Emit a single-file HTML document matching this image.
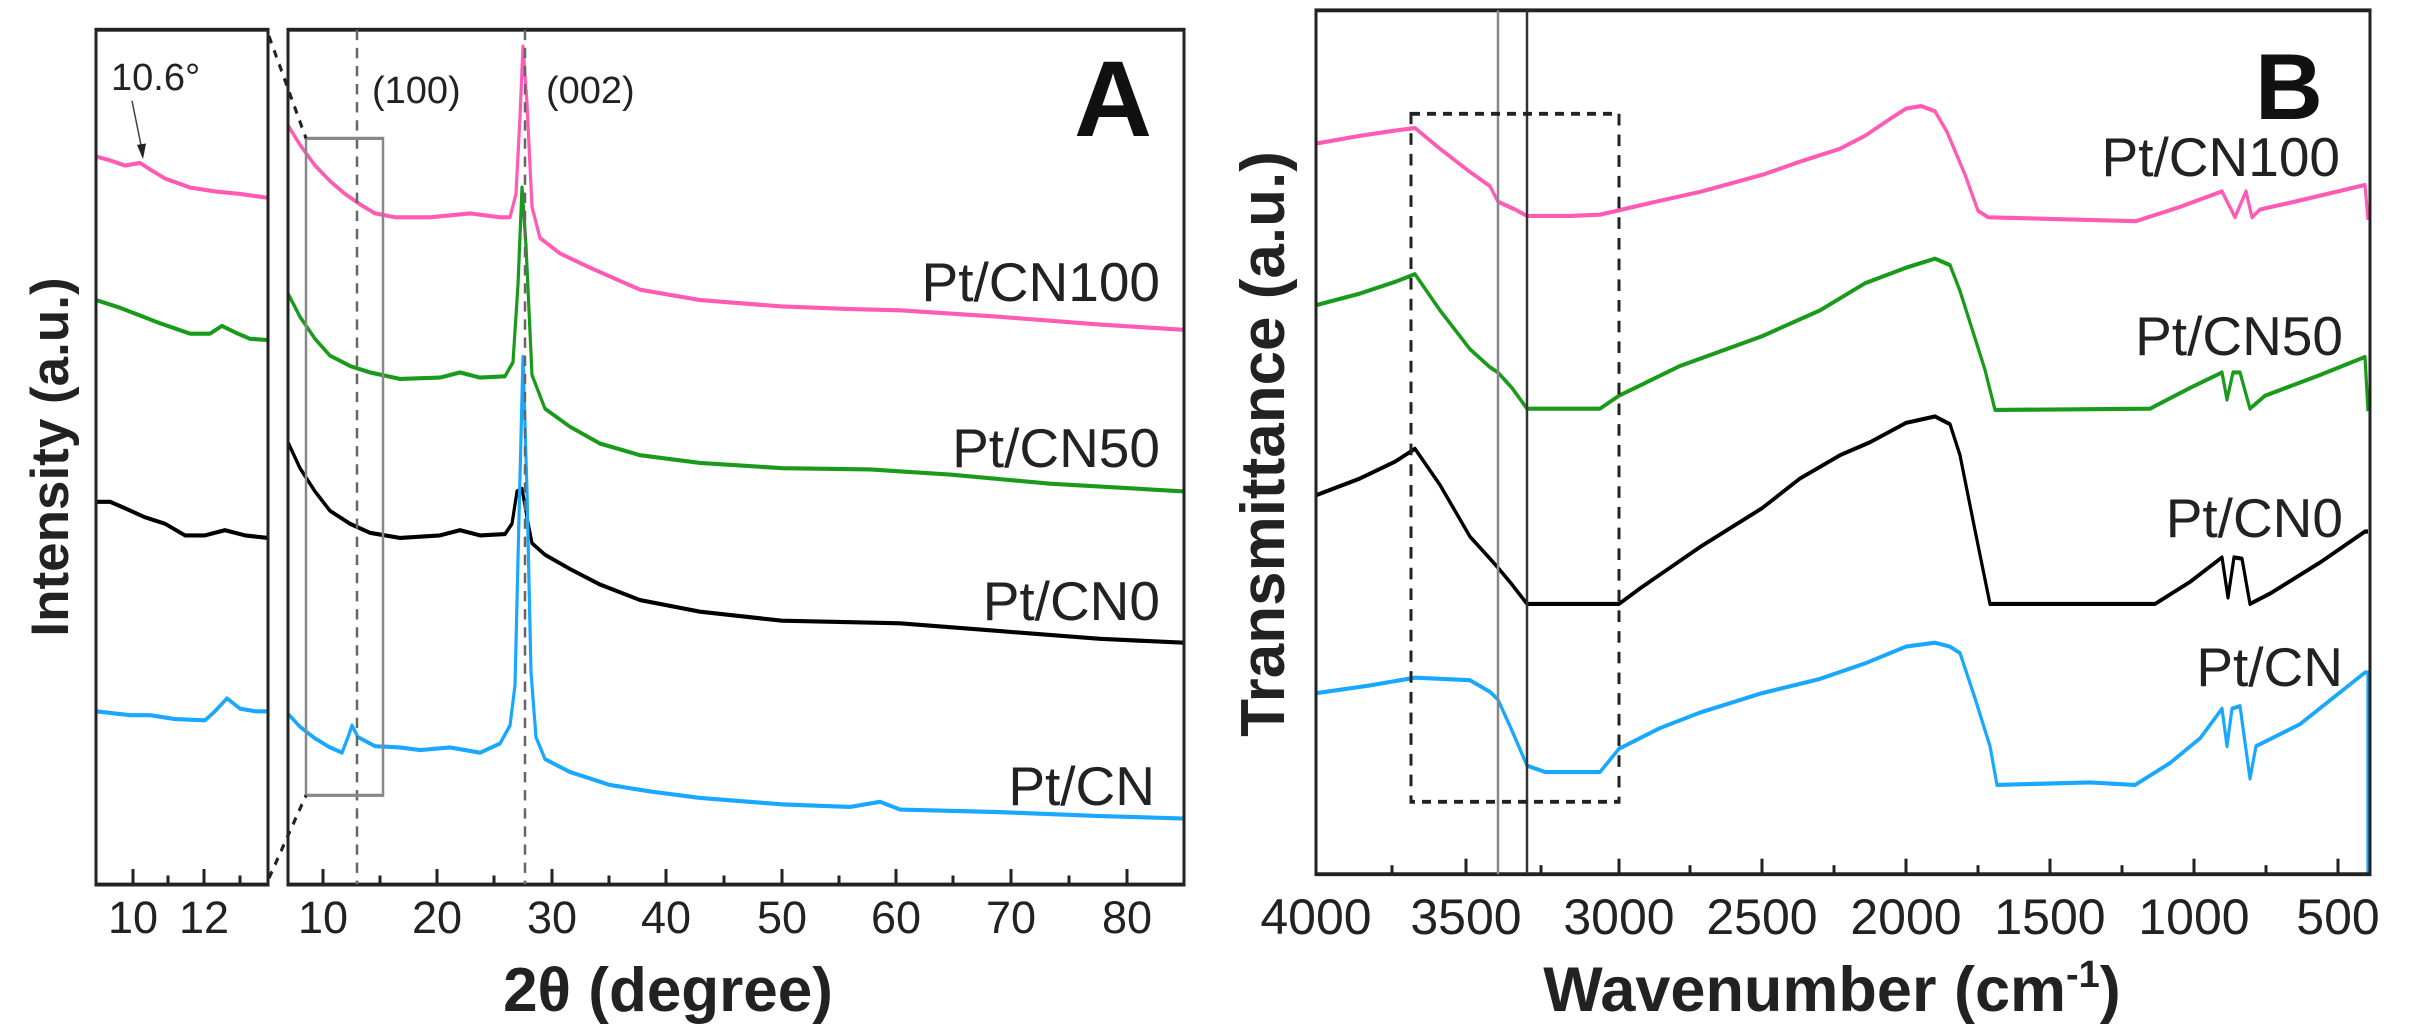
<!DOCTYPE html>
<html><head><meta charset="utf-8"><style>
html,body{margin:0;padding:0;background:#fff;}
svg{display:block}
text{font-family:"Liberation Sans",Arial,sans-serif;}
</style></head><body>
<svg width="2433" height="1034" viewBox="0 0 2433 1034" xmlns="http://www.w3.org/2000/svg">
<g transform="scale(1,1.2932)">
<g fill="none" stroke-width="3.2" stroke-linejoin="round">
<polyline stroke="#ff5ab4" points="96,121 110,124 125,128 140,126 150,131 165,138 190,145 215,148 240,150 268,153"/>
<polyline stroke="#1a9a1a" points="96,232 120,238 140,244 160,250 190,258 210,258 222,252 235,257 250,262 268,263"/>
<polyline stroke="#000" points="96,388 110,388 125,393 145,400 165,405 185,414 205,414 225,410 245,414 268,416"/>
<polyline stroke="#1aa8ff" points="96,550 130,553 150,553 175,556 205,557 215,550 227,540 240,548 255,550 268,550"/>
<polyline stroke="#ff5ab4" points="288,97 300,112 315,128 330,140 345,150 360,158 375,165 395,168 430,168 470,165 500,168 510,168 516,150 520,90 523,36 527,80 532,160 540,184 560,196 590,207 640,224 700,232 782,237 850,239 900,240 1000,245 1100,251 1184,255"/>
<polyline stroke="#1a9a1a" points="288,227 300,245 315,262 330,275 350,283 370,288 400,293 440,292 460,288 480,292 505,291 513,280 518,220 522,145 526,190 532,290 545,316 570,330 600,343 640,352 700,358 782,362 870,363 950,367 1050,374 1184,380"/>
<polyline stroke="#000" points="288,342 300,362 315,380 330,395 350,405 370,412 400,416 440,414 460,410 480,414 505,413 512,405 517,380 522,378 527,400 532,420 545,429 570,440 600,452 640,464 700,473 782,480 900,482 1000,488 1100,494 1184,497"/>
<polyline stroke="#1aa8ff" points="288,552 300,562 315,571 330,578 342,582 348,570 352,561 358,570 375,577 400,578 420,580 450,578 480,582 500,575 510,561 515,530 519,400 523,276 527,380 531,520 536,570 545,587 570,597 610,607 650,612 700,617 782,622 850,624 880,620 900,626 1000,628 1100,631 1184,633"/>
<polyline stroke="#ff5ab4" points="1316,111 1360,105 1395,101 1415,99 1440,115 1470,133 1490,144 1498,156 1515,162 1527,167 1570,167 1600,166 1650,157 1702,148 1763,135 1800,125 1840,115 1865,105 1890,92 1906,84 1921,82 1935,86 1947,102 1965,135 1978,163 1988,168 2136,171 2180,160 2222,148 2235,168 2246,148 2252,168 2260,162 2300,155 2365,143 2368,170"/>
<polyline stroke="#1a9a1a" points="1316,236 1360,227 1395,218 1415,212 1440,240 1470,270 1490,284 1498,288 1512,300 1527,316 1600,316 1619,306 1680,283 1762,260 1820,240 1865,219 1906,207 1935,200 1950,205 1960,225 1985,286 1995,317 2150,316 2190,300 2222,288 2227,309 2233,288 2240,288 2250,316 2265,306 2320,290 2365,276 2368,318"/>
<polyline stroke="#000" points="1316,383 1360,370 1395,357 1415,347 1440,375 1470,415 1490,432 1498,439 1512,452 1527,467 1619,467 1640,455 1700,423 1762,393 1800,370 1840,352 1870,342 1906,327 1935,322 1950,328 1960,352 1975,410 1990,467 2155,467 2190,450 2222,431 2228,462 2234,431 2242,432 2250,467 2270,459 2320,435 2365,411 2368,411"/>
<polyline stroke="#1aa8ff" points="1316,536 1370,530 1415,524 1470,526 1490,535 1498,541 1512,565 1527,592 1545,597 1600,597 1619,579 1660,563 1700,551 1762,536 1820,525 1865,513 1906,500 1935,497 1950,500 1960,505 1975,540 1990,577 1997,607 2090,605 2135,607 2170,590 2200,571 2222,548 2227,577 2232,548 2240,546 2250,602 2256,577 2300,560 2365,520 2368,520 2368,676"/>
</g>
<g fill="none" stroke="#222" stroke-width="3">
<rect x="96" y="23" width="172" height="661"/>
<rect x="288" y="23" width="896" height="661"/>
<rect x="1316" y="8" width="1054" height="668"/>
</g>
<g stroke="#666" stroke-width="2.5" stroke-dasharray="8,6">
<line x1="357" y1="23" x2="357" y2="684"/>
<line x1="525" y1="23" x2="525" y2="684"/>
</g>
<rect x="306" y="107" width="77" height="508" fill="none" stroke="#888" stroke-width="2.5"/>
<g stroke="#222" stroke-width="3" stroke-dasharray="6,6">
<line x1="269" y1="28" x2="306" y2="107"/>
<line x1="269" y1="679" x2="306" y2="615"/>
</g>
<line x1="1498" y1="8" x2="1498" y2="676" stroke="#888" stroke-width="2.5"/>
<line x1="1527" y1="8" x2="1527" y2="676" stroke="#333" stroke-width="2.5"/>
<rect x="1411" y="88" width="208" height="532" fill="none" stroke="#222" stroke-width="3" stroke-dasharray="9,7"/>
<g stroke="#222" stroke-width="3">
<line x1="133" y1="684" x2="133" y2="672"/><line x1="204" y1="684" x2="204" y2="672"/>
<line x1="168" y1="684" x2="168" y2="677"/><line x1="240" y1="684" x2="240" y2="677"/>
<line x1="323" y1="684" x2="323" y2="672"/><line x1="437" y1="684" x2="437" y2="672"/><line x1="552" y1="684" x2="552" y2="672"/><line x1="666" y1="684" x2="666" y2="672"/><line x1="782" y1="684" x2="782" y2="672"/><line x1="896" y1="684" x2="896" y2="672"/><line x1="1011" y1="684" x2="1011" y2="672"/><line x1="1127" y1="684" x2="1127" y2="672"/>
<line x1="380" y1="684" x2="380" y2="677"/><line x1="494" y1="684" x2="494" y2="677"/><line x1="609" y1="684" x2="609" y2="677"/><line x1="724" y1="684" x2="724" y2="677"/><line x1="839" y1="684" x2="839" y2="677"/><line x1="953" y1="684" x2="953" y2="677"/><line x1="1069" y1="684" x2="1069" y2="677"/>
<line x1="1466" y1="676" x2="1466" y2="664"/><line x1="1619" y1="676" x2="1619" y2="664"/><line x1="1762" y1="676" x2="1762" y2="664"/><line x1="1906" y1="676" x2="1906" y2="664"/><line x1="2050" y1="676" x2="2050" y2="664"/><line x1="2194" y1="676" x2="2194" y2="664"/><line x1="2338" y1="676" x2="2338" y2="664"/>
<line x1="1392" y1="676" x2="1392" y2="669"/><line x1="1541" y1="676" x2="1541" y2="669"/><line x1="1690" y1="676" x2="1690" y2="669"/><line x1="1834" y1="676" x2="1834" y2="669"/><line x1="1978" y1="676" x2="1978" y2="669"/><line x1="2122" y1="676" x2="2122" y2="669"/><line x1="2266" y1="676" x2="2266" y2="669"/>
</g>
<line x1="132" y1="78" x2="142" y2="116" stroke="#444" stroke-width="1.5"/>
<polygon points="143,123 137,112 146,111" fill="#222"/>
</g>
<g font-size="45" fill="#222" text-anchor="middle">
<text x="133" y="933">10</text><text x="204" y="933">12</text>
<text x="323" y="933">10</text><text x="437" y="933">20</text><text x="552" y="933">30</text><text x="666" y="933">40</text><text x="782" y="933">50</text><text x="896" y="933">60</text><text x="1011" y="933">70</text><text x="1127" y="933">80</text>
</g>
<g font-size="50" fill="#222" text-anchor="middle">
<text x="1316" y="934">4000</text><text x="1466" y="934">3500</text><text x="1619" y="934">3000</text><text x="1762" y="934">2500</text><text x="1906" y="934">2000</text><text x="2050" y="934">1500</text><text x="2194" y="934">1000</text><text x="2338" y="934">500</text>
</g>
<g font-size="38" fill="#222">
<text x="372" y="103">(100)</text><text x="546" y="103">(002)</text>
<text x="111" y="90">10.6°</text>
</g>
<g font-size="55" fill="#222" text-anchor="end">
<text x="1160" y="301">Pt/CN100</text><text x="1160" y="467">Pt/CN50</text><text x="1160" y="620">Pt/CN0</text><text x="1155" y="805">Pt/CN</text>
<text x="2340" y="176">Pt/CN100</text><text x="2343" y="355">Pt/CN50</text><text x="2343" y="537">Pt/CN0</text><text x="2343" y="686">Pt/CN</text>
</g>
<text x="1074" y="136" font-size="108" font-weight="bold" fill="#111">A</text>
<text x="2255" y="119" font-size="94" font-weight="bold" fill="#111">B</text>
<g font-weight="bold" fill="#222" text-anchor="middle">
<text x="668" y="1011" font-size="62">2θ (degree)</text>
<text x="1832" y="1011" font-size="63">Wavenumber (cm<tspan font-size="38" dy="-24">-1</tspan><tspan dy="24">)</tspan></text>
<text transform="translate(68,457) rotate(-90)" font-size="53">Intensity (a.u.)</text>
<text transform="translate(1284,444) rotate(-90)" font-size="62">Transmittance (a.u.)</text>
</g>
</svg>
</body></html>
